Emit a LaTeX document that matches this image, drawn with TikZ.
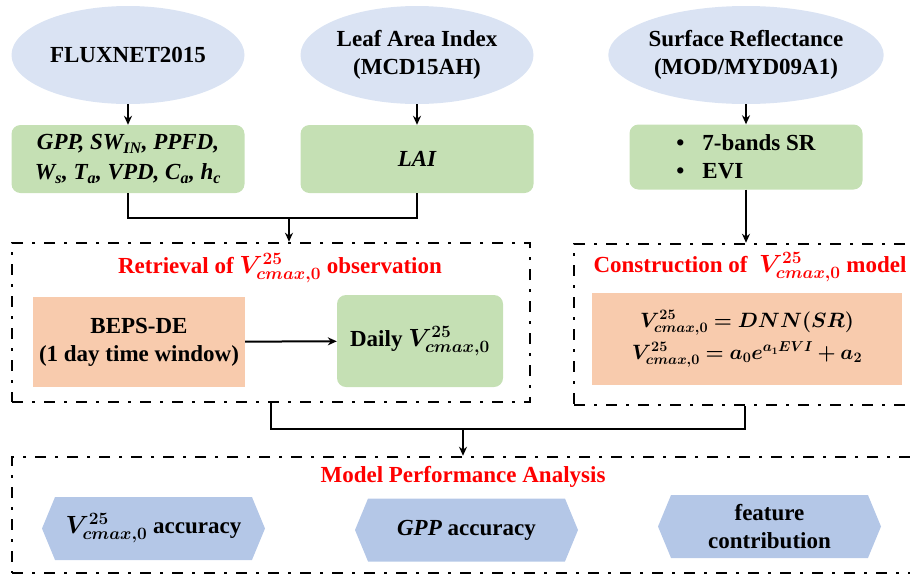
\documentclass[tikz,border=0pt]{standalone}
\usepackage{amsmath}
\usepackage{bm}
\usepackage{fontspec}
\setmainfont{Liberation Serif}[BoldFont={Liberation Serif Bold}, ItalicFont={Liberation Serif Italic}, BoldItalicFont={Liberation Serif Bold Italic}]
\usepackage{tikz}
\usetikzlibrary{shapes.geometric,shapes.symbols,arrows.meta}
\definecolor{skyblue}{RGB}{218,227,243}
\definecolor{leafgreen}{RGB}{197,224,180}
\definecolor{peach}{RGB}{248,203,173}
\definecolor{hexblue}{RGB}{180,199,231}
\newcommand{\vcmax}{$\bm{V^{25}_{cmax,0}}$}

\begin{document}
\begin{tikzpicture}[x=1pt,y=-1pt,
        font=\rmfamily\fontsize{23}{28}\selectfont\bfseries,
        source/.style={ellipse, fill=skyblue, inner sep=0pt, minimum width=233pt, minimum height=98pt, align=center},
        databox/.style={rectangle, rounded corners=9pt, fill=leafgreen, inner sep=0pt, minimum width=233pt, minimum height=68pt, align=center},
        modelbox/.style={rectangle, fill=peach, inner sep=0pt, align=center},
        frame/.style={draw, line width=2.5pt, dash pattern=on 11pt off 9pt on 3pt off 9pt, inner sep=0pt},
        title/.style={text=red},
        result/.style={signal, signal to=east and west, signal pointer angle=135, fill=hexblue, inner sep=0pt, minimum height=63pt, minimum width=223pt, align=center},
        link/.style={line width=2pt},
        flow/.style={line width=2pt, -{Stealth[length=9pt,width=8pt]}}]
        \useasboundingbox (0,0) rectangle (910,574);
        \node[source] (flux) at (128,55) {FLUXNET2015};
        \node[source] (lai) at (417,55) {Leaf Area Index\\(MCD15AH)};
        \node[source] (sr) at (746,55) {Surface Reflectance\\(MOD/MYD09A1)};
        \node[databox, font=\rmfamily\fontsize{23}{30}\selectfont\bfseries\itshape] (fluxdata) at (128,159) {GPP, SW\textsubscript{IN}, PPFD,\\W\textsubscript{s}, T\textsubscript{a}, VPD, C\textsubscript{a}, h\textsubscript{c}};
        \node[databox, font=\rmfamily\fontsize{23}{28}\selectfont\bfseries\itshape] (laidata) at (417,159) {LAI};
        \node[databox, minimum height=65pt, align=left] (srdata) at (746,157) {\textbullet\hspace{18pt}7-bands SR\\\textbullet\hspace{18pt}EVI};
        \node[frame, minimum width=518pt, minimum height=159pt] (retr) at (271,322.5) {};
        \node[frame, minimum width=341pt, minimum height=161pt] (cons) at (744.5,324.5) {};
        \node[frame, minimum width=903pt, minimum height=116pt] (perf) at (463.5,515) {};
        \node[title] (retrtitle) at (280,268) {Retrieval of \vcmax{} observation};
        \node[title] (constitle) at (750,267) {Construction of\ \ \vcmax{} model};
        \node[title] (perftitle) at (463,477) {Model Performance Analysis};
        \node[modelbox, minimum width=212pt, minimum height=90pt] (beps) at (139,342) {BEPS-DE\\(1 day time window)};
        \node[databox, minimum width=166pt, minimum height=92pt] (daily) at (420,341) {Daily \vcmax};
        \node[modelbox, minimum width=310pt, minimum height=92pt, font=\rmfamily\fontsize{20}{26}\selectfont\bfseries] (dnn) at (747,339) {$\bm{V^{25}_{cmax,0} = DNN(SR)}$\\[6pt]$\bm{V^{25}_{cmax,0} = a_0e^{a_1EVI} + a_2}$};
        \foreach \name/\cx/\cy/\txt in {vacc/153.5/528.5/{\vcmax{} accuracy}, gppacc/466.5/530/{\textit{GPP} accuracy}, feat/769.5/526.5/{feature\\contribution}} {
            \node[result] (\name) at (\cx,\cy) {\txt};
        }
        \coordinate (upjoin) at (289,218);
        \coordinate (lowjoin) at (463,428);
        \draw[flow] (flux) -- (fluxdata);
        \draw[flow] (lai) -- (laidata);
        \draw[flow] (sr) -- (srdata);
        \draw[link] (fluxdata.south) -- ++(0,25) -| (laidata.south);
        \draw[flow] (upjoin) -- (upjoin |- retr.north);
        \draw[flow] (srdata) -- (srdata |- cons.north);
        \draw[flow] (beps) -- (daily);
        \draw[link] (retr.south) -- ++(0,26) -| (cons.south);
        \draw[flow] (lowjoin) -- (lowjoin |- perf.north);
    \end{tikzpicture}
\end{document}
